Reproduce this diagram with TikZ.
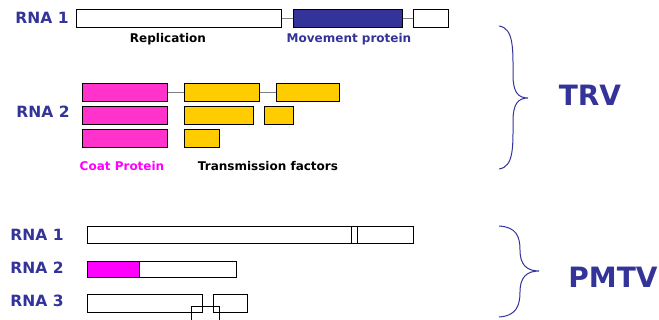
\documentclass[tikz,border=0pt]{standalone}
\usepackage{fontspec}
\setmainfont{DejaVu Sans}
\usepackage{tikz}
\usetikzlibrary{positioning,calc}
\definecolor{rnablue}{RGB}{51,51,153}
\definecolor{coatpink}{RGB}{255,51,204}
\definecolor{cpmag}{RGB}{255,0,255}
\definecolor{tfyellow}{RGB}{255,204,0}
\tikzset{
  seg/.style={draw, line width=0.8pt, anchor=north west, inner sep=0pt,
    minimum height=18pt},
  rnalabel/.style={font=\fontsize{15.5}{18}\selectfont\bfseries, text=rnablue},
  genelabel/.style={font=\fontsize{12}{14}\selectfont\bfseries},
  virus/.style={font=\fontsize{28}{32}\selectfont\bfseries, text=rnablue},
  link/.style={draw=gray, line width=1pt},
  brace/.style={draw=rnablue, line width=1pt},
}
\begin{document}
\begin{tikzpicture}[x=1pt, y=-1pt]
  \useasboundingbox (0,0) rectangle (659,320);

  % TRV RNA 1
  \node[rnalabel] (t1) at (42,18) {RNA 1};
  \node[seg, fill=white, minimum width=205pt] (rep) at (76,9) {};
  \node[seg, fill=rnablue, minimum width=109pt] (mp) at (293,9) {};
  \node[seg, fill=white, minimum width=35pt] (t1end) at (413,9) {};
  \draw[link] (rep.east) -- (mp.west);
  \draw[link] (mp.east) -- (t1end.west);
  \node[genelabel] at (168,39) {Replication};
  \node[genelabel, text=rnablue] at (349,39) {Movement protein};

  % TRV RNA 2
  \node[rnalabel] (t2) at (43,112) {RNA 2};
  \node[seg, fill=coatpink, minimum width=85pt] (cp1) at (82,83) {};
  \node[seg, fill=coatpink, minimum width=85pt] (cp2) at (82,106) {};
  \node[seg, fill=coatpink, minimum width=85pt] (cp3) at (82,129) {};
  \node[seg, fill=tfyellow, minimum width=75pt] (tfa1) at (184,83) {};
  \node[seg, fill=tfyellow, minimum width=63pt] (tfb1) at (276,83) {};
  \node[seg, fill=tfyellow, minimum width=69pt] (tfa2) at (184,106) {};
  \node[seg, fill=tfyellow, minimum width=29pt] (tfb2) at (264,106) {};
  \node[seg, fill=tfyellow, minimum width=35pt] (tfa3) at (184,129) {};
  \draw[link] (cp1.east) -- (tfa1.west);
  \draw[link] (tfa1.east) -- (tfb1.west);
  \node[genelabel, text=cpmag] at (122,166) {Coat Protein};
  \node[genelabel] at (268,166) {Transmission factors};

  % PMTV
  \node[rnalabel] (p1) at (37,235) {RNA 1};
  \node[seg, fill=white, minimum width=326pt, minimum height=17pt] (p1a) at (87,226) {};
  \draw[line width=0.8pt] (351,226) -- (351,243) (357,226) -- (357,243);
  \node[rnalabel] (p2) at (37,268) {RNA 2};
  \node[seg, fill=cpmag, minimum width=52pt, minimum height=16pt] (p2cp) at (87,261) {};
  \node[seg, fill=white, minimum width=97pt, minimum height=16pt] (p2b) at (139,261) {};
  \node[rnalabel] (p3) at (37,301) {RNA 3};
  \node[seg, fill=white, minimum width=115pt] (p3a) at (87,294) {};
  \node[seg, fill=white, minimum width=34pt] (p3b) at (213,294) {};
  \draw[line width=0.8pt] (191,320) |- (219,306) -- (219,320);

  % braces
  \draw[brace] (499,26) .. controls (514,28) and (513,50) .. (513,75)
    .. controls (513,92) and (518,98) .. (528,98)
    .. controls (518,98) and (513,104) .. (513,121)
    .. controls (513,146) and (514,167) .. (499,169);
  \node[virus] (trv) at (590,95) {TRV};
  \draw[brace] (499,226) .. controls (516,227) and (520,236) .. (520,250)
    .. controls (520,264) and (526,271) .. (539,271)
    .. controls (526,271) and (520,278) .. (520,292)
    .. controls (520,306) and (516,316) .. (499,317);
  \node[virus] (pmtv) at (613,277) {PMTV};
\end{tikzpicture}
\end{document}
